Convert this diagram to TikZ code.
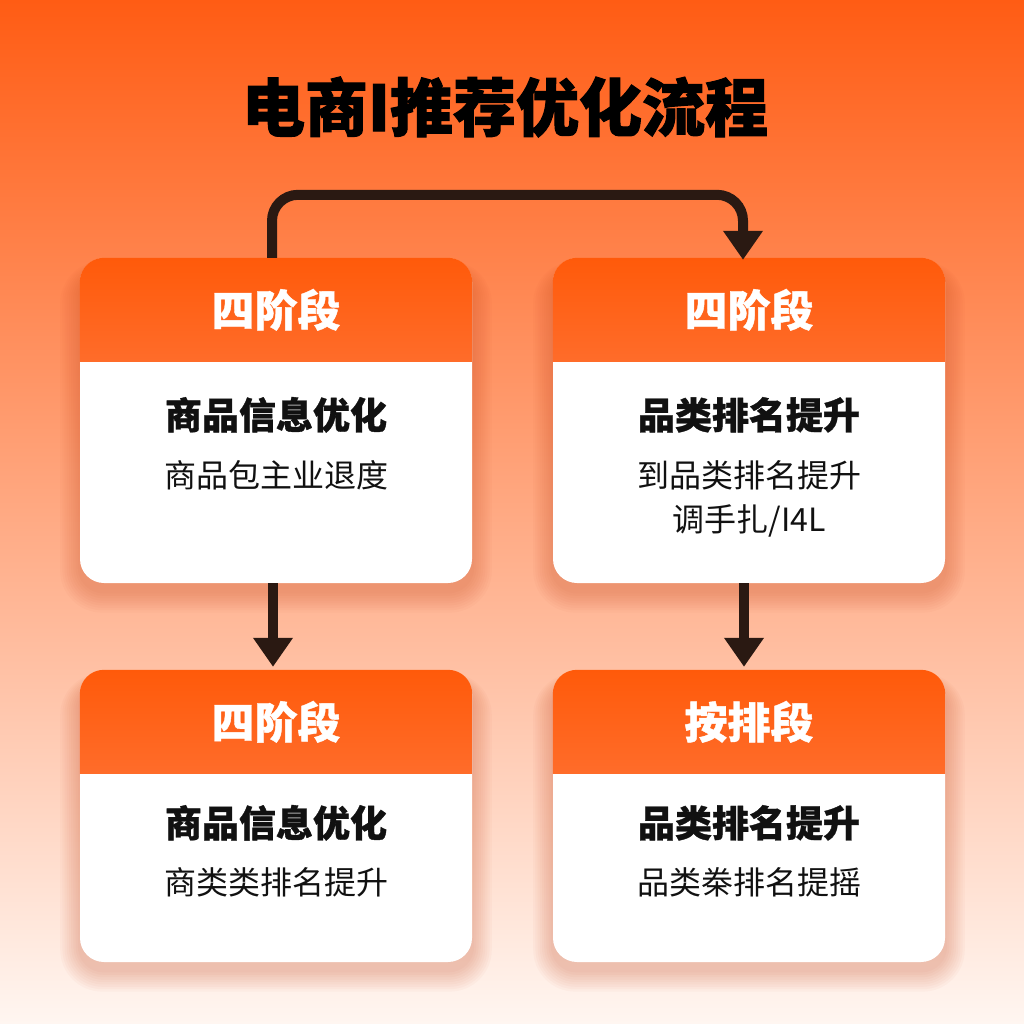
\documentclass[tikz,border=0pt]{standalone}
\usepackage{fontspec}
\setmainfont{Noto Sans CJK SC}
\newfontfamily\heavy{Noto Sans CJK SC}[BoldFeatures={FakeBold=1.6}]
\newfontfamily\semiheavy{Noto Sans CJK SC}[BoldFeatures={FakeBold=0.9}]
\usetikzlibrary{arrows.meta}

\definecolor{bgtop}{HTML}{FF5C14}
\definecolor{bgmid}{HTML}{FF9C6C}
\definecolor{bgbot}{HTML}{FFF6F1}
\definecolor{hdtop}{HTML}{FF5A0A}
\definecolor{hdbot}{HTML}{FF6C2A}
\definecolor{ink}{HTML}{111111}
\definecolor{flowc}{HTML}{2A1912}
\definecolor{shadowc}{HTML}{C8441A}

\tikzset{
  card/.style={shape=rectangle, fill=white, rounded corners=24pt, inner sep=0pt, minimum width=392pt},
  hdtext/.style={text=white, font=\semiheavy\bfseries\fontsize{43}{46}\selectfont},
  bodytitle/.style={text=ink, font=\semiheavy\bfseries\fontsize{37}{40}\selectfont},
  bodytext/.style={text=ink, align=center, font=\fontsize{32}{44}\selectfont},
  flow/.style={draw=flowc, line width=10pt, -{Triangle[width=38pt,length=29pt]}}
}

\begin{document}
\begin{tikzpicture}[x=1pt, y=-1pt]
    \useasboundingbox (0,0) rectangle (1024,1024);
    \shade[top color=bgtop, middle color=bgmid, bottom color=bgbot] (0,0) rectangle (1024,1024);

    \node[font=\heavy\bfseries\fontsize{63}{66}\selectfont, text=black] (title) at (505,107) {电商I推荐优化流程};

    % soft shadows under the cards
    \foreach \cx/\cy/\hh in {276/420.5/325, 749/420.5/325, 276/816/292, 749/816/292} {
      \foreach \k in {1,...,9} {
        \fill[shadowc, opacity=0.03, rounded corners=24pt+\k*2pt]
          (\cx-196-\k*2.2, \cy-\hh/2+14-\k*1.2) rectangle (\cx+196+\k*2.2, \cy+\hh/2+8+\k*2.4);
      }
    }

    \node[card, minimum height=325pt] (s1) at (276,420.5) {};
    \node[card, minimum height=325pt] (s2) at (749,420.5) {};
    \node[card, minimum height=292pt] (s3) at (276,816) {};
    \node[card, minimum height=292pt] (s4) at (749,816) {};

    % orange header bands
    \foreach \s in {s1,s2,s3,s4} {
      \begin{scope}
        \clip[rounded corners=24pt] (\s.south west) rectangle (\s.north east);
        \shade[top color=hdtop, bottom color=hdbot] (\s.north west) rectangle ([yshift=-104pt]\s.north east);
      \end{scope}
    }

    \node[hdtext] (h1) at ([yshift=-52pt]s1.north) {四阶段};
    \node[hdtext] (h2) at ([yshift=-52pt]s2.north) {四阶段};
    \node[hdtext] (h3) at ([yshift=-52pt]s3.north) {四阶段};
    \node[hdtext] (h4) at ([yshift=-52pt]s4.north) {按排段};

    \node[bodytitle] (t1) at ([yshift=-157pt]s1.north) {商品信息优化};
    \node[bodytitle] (t2) at ([yshift=-157pt]s2.north) {品类排名提升};
    \node[bodytitle] (t3) at ([yshift=-153pt]s3.north) {商品信息优化};
    \node[bodytitle] (t4) at ([yshift=-153pt]s4.north) {品类排名提升};

    \node[bodytext, anchor=north] (d1) at ([yshift=-199pt]s1.north) {商品包主业退度};
    \node[bodytext, anchor=north] (d2) at ([yshift=-199pt]s2.north) {到品类排名提升\\调手扎/I4L};
    \node[bodytext, anchor=north] (d3) at ([yshift=-194pt]s3.north) {商类类排名提升};
    \node[bodytext, anchor=north] (d4) at ([yshift=-194pt]s4.north) {品类桊排名提摇};

    \draw[flow, rounded corners=26pt] ([xshift=-4pt]s1.north) -- ++(0,-63) -| ([xshift=-6pt, yshift=-2pt]s2.north);
    \draw[flow] ([xshift=-3pt]s1.south) -- ([xshift=-3pt, yshift=3pt]s3.north);
    \draw[flow] ([xshift=-5pt]s2.south) -- ([xshift=-5pt, yshift=3pt]s4.north);
\end{tikzpicture}
\end{document}
